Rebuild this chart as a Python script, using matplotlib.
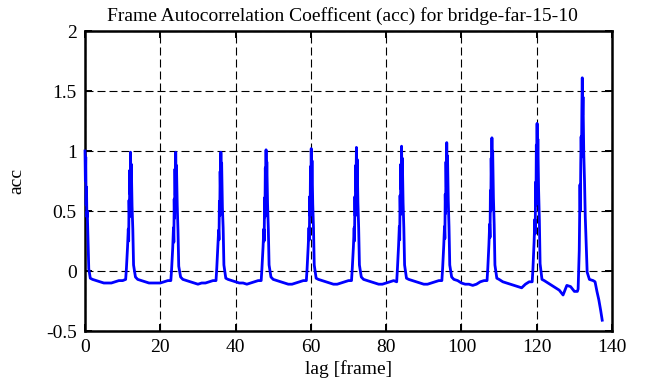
import numpy as np
import matplotlib
matplotlib.use("Agg")
import matplotlib.pyplot as plt

plt.rcParams['font.family'] = ['Liberation Serif', 'DejaVu Serif']
plt.rcParams['axes.unicode_minus'] = False

# ---- data ----
peak0_lags = [0.0, 0.1, 0.2, 0.3, 0.4, 0.5, 0.6, 0.8, 1.0, 1.4]
peak0_acc = [1.0, 0.75, 0.95, 0.55, 0.70, 0.45, 0.50, 0.25, 0.02, -0.06]

peak_centers = [12, 24, 36, 48, 60, 72, 84, 96, 108, 120, 132]
peak_offsets = [-1.2, -1.0, -0.7, -0.5, -0.4, -0.3, -0.2, -0.1, 0.0, 0.1, 0.2, 0.3, 0.5, 0.7, 0.9, 1.4]
peak_acc = [
    [-0.07, 0.02, 0.20, 0.35, 0.25, 0.59, 0.45, 0.84, 0.64, 0.99, 0.69, 0.89, 0.54, 0.35, 0.05, -0.05],
    [-0.08, 0.01, 0.19, 0.36, 0.24, 0.60, 0.44, 0.85, 0.63, 0.99, 0.70, 0.88, 0.55, 0.34, 0.04, -0.05],
    [-0.08, 0.02, 0.21, 0.34, 0.26, 0.58, 0.46, 0.83, 0.65, 0.99, 0.68, 0.90, 0.53, 0.36, 0.05, -0.06],
    [-0.08, 0.02, 0.20, 0.35, 0.25, 0.61, 0.45, 0.86, 0.66, 1.01, 0.71, 0.91, 0.56, 0.35, 0.05, -0.05],
    [-0.08, 0.02, 0.21, 0.36, 0.26, 0.62, 0.46, 0.87, 0.66, 1.02, 0.72, 0.92, 0.56, 0.36, 0.05, -0.06],
    [-0.08, 0.02, 0.20, 0.36, 0.25, 0.62, 0.46, 0.88, 0.67, 1.03, 0.72, 0.93, 0.57, 0.36, 0.05, -0.05],
    [-0.09, 0.02, 0.21, 0.37, 0.26, 0.63, 0.47, 0.89, 0.68, 1.04, 0.73, 0.94, 0.57, 0.36, 0.05, -0.06],
    [-0.08, 0.02, 0.21, 0.37, 0.27, 0.64, 0.48, 0.91, 0.70, 1.07, 0.75, 0.96, 0.59, 0.37, 0.05, -0.05],
    [-0.08, 0.02, 0.22, 0.39, 0.28, 0.67, 0.50, 0.94, 0.72, 1.11, 0.78, 1.00, 0.61, 0.39, 0.05, -0.06],
    [-0.09, 0.02, 0.24, 0.43, 0.31, 0.74, 0.55, 1.05, 0.80, 1.23, 0.86, 1.10, 0.68, 0.43, 0.06, -0.07],
    [-0.17, -0.15, 0.17, 0.72, 0.50, 0.90, 1.12, 0.95, 1.35, 1.61, 1.30, 1.45, 0.98, 0.75, 0.45, -0.01],
]
gap_offsets = [2, 3, 4, 5, 6, 7, 8, 9, 10]
gap_acc = [
    [-0.07, -0.08, -0.09, -0.10, -0.10, -0.10, -0.09, -0.08, -0.08],
    [-0.07, -0.08, -0.09, -0.10, -0.10, -0.10, -0.10, -0.09, -0.08],
    [-0.07, -0.08, -0.09, -0.10, -0.11, -0.10, -0.10, -0.09, -0.08],
    [-0.07, -0.08, -0.09, -0.10, -0.10, -0.11, -0.10, -0.09, -0.08],
    [-0.07, -0.08, -0.09, -0.10, -0.11, -0.11, -0.10, -0.09, -0.08],
    [-0.07, -0.08, -0.09, -0.10, -0.11, -0.11, -0.10, -0.09, -0.08],
    [-0.07, -0.08, -0.09, -0.10, -0.11, -0.11, -0.10, -0.09, -0.08],
    [-0.07, -0.08, -0.09, -0.10, -0.11, -0.11, -0.10, -0.09, -0.08],
    [-0.07, -0.08, -0.10, -0.11, -0.11, -0.12, -0.11, -0.09, -0.08],
    [-0.07, -0.09, -0.10, -0.11, -0.12, -0.13, -0.14, -0.11, -0.09],
    [-0.08, -0.10, -0.12, -0.14, -0.16, -0.20, -0.12, -0.13, -0.17],
]
tail_lags = [134.0, 135.0, 135.5, 136.0, 136.5, 137.0, 137.4]
tail_acc = [-0.07, -0.08, -0.09, -0.17, -0.24, -0.33, -0.41]

xticks = [0, 20, 40, 60, 80, 100, 120, 140]
yticks = [-0.5, 0, 0.5, 1, 1.5, 2]
ytick_labels = ["-0.5", "0", "0.5", "1", "1.5", "2"]

# ---- assemble series ----
lags = list(peak0_lags)
acc = list(peak0_acc)
starts = [0] + peak_centers[:-1]
for s, g, c, p in zip(starts, gap_acc, peak_centers, peak_acc):
    lags += [s + o for o in gap_offsets]
    acc += g
    lags += [c + o for o in peak_offsets]
    acc += p
lags += tail_lags
acc += tail_acc

fig = plt.figure(figsize=(6.56, 3.87), dpi=100)
ax = fig.add_axes([85/656, 56/387, 527/656, 300/387])
ax.plot(lags, acc, color=(0, 0, 1), lw=2.0, zorder=3, clip_on=False)
ax.set_xlim(0, 140)
ax.set_ylim(-0.5, 2)
ax.set_xticks(xticks)
ax.set_xticklabels([str(t) for t in xticks])
ax.set_yticks(yticks)
ax.set_yticklabels(ytick_labels)
ax.grid(True, color='black', linestyle=(0, (7.2, 3.6)), linewidth=0.8)
ax.tick_params(direction='in', top=True, right=True, length=5, width=1.4,
               labelsize=14, pad=6)
for sp in ax.spines.values():
    sp.set_linewidth(1.8)
ax.set_title("Frame Autocorrelation Coefficent (acc) for bridge-far-15-10",
             fontsize=14, pad=7, x=0.489)
ax.set_xlabel("lag [frame]", fontsize=14, labelpad=3)
ax.set_ylabel("acc", fontsize=14, labelpad=15)
fig.savefig("out.png", dpi=100)
